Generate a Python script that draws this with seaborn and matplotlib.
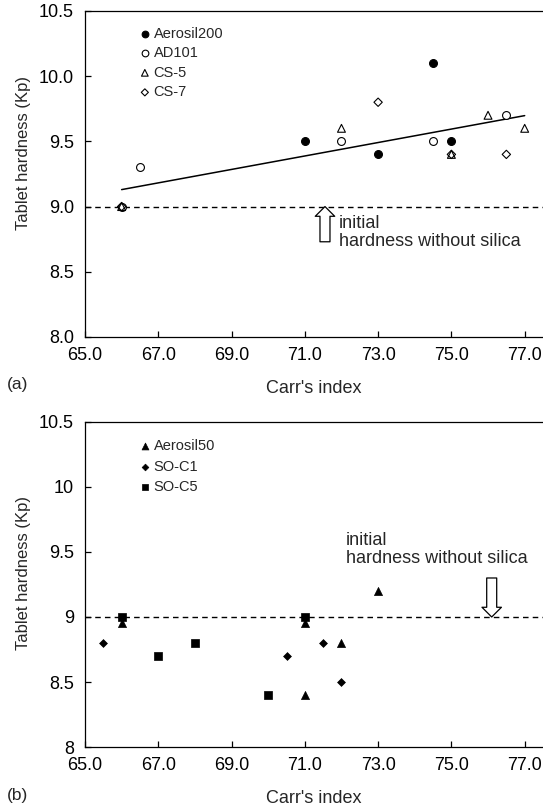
import matplotlib
matplotlib.use("Agg")
import matplotlib.pyplot as plt
import numpy as np
import pandas as pd
import seaborn as sns

sns.set_style("ticks")
plt.rcParams['font.family'] = ['Liberation Sans', 'DejaVu Sans']

# panel (a) data
aerosil200_x = [71.0, 73.0, 74.5, 75.0]
aerosil200_y = [9.5, 9.4, 10.1, 9.5]
ad101_x = [66.0, 66.5, 72.0, 74.5, 76.5]
ad101_y = [9.0, 9.3, 9.5, 9.5, 9.7]
cs5_x = [66.0, 72.0, 75.0, 76.0, 77.0]
cs5_y = [9.0, 9.6, 9.4, 9.7, 9.6]
cs7_x = [66.0, 73.0, 75.0, 76.5]
cs7_y = [9.0, 9.8, 9.4, 9.4]

# panel (b) data
aerosil50_x = [66.0, 71.0, 71.0, 72.0, 73.0]
aerosil50_y = [8.95, 8.95, 8.4, 8.8, 9.2]
soc1_x = [65.5, 70.5, 71.5, 72.0]
soc1_y = [8.8, 8.7, 8.8, 8.5]
soc5_x = [66.0, 67.0, 68.0, 70.0, 71.0]
soc5_y = [9.0, 8.7, 8.8, 8.4, 9.0]

initial_hardness = 9.0
x_ticks = [65, 67, 69, 71, 73, 75, 77]
y_ticks = [8.0, 8.5, 9.0, 9.5, 10.0, 10.5]

df_a = pd.DataFrame({
    'carr': aerosil200_x + ad101_x + cs5_x + cs7_x,
    'hardness': aerosil200_y + ad101_y + cs5_y + cs7_y,
})

fig = plt.figure(figsize=(5.43, 8.11), dpi=100)
ax1 = fig.add_axes([0.1565, 0.5845, 0.8435, 0.4020])
ax2 = fig.add_axes([0.1565, 0.0789, 0.8435, 0.4008])


def style_axis(ax, ylabel_y, yfmt):
    ax.set_xlim(65, 77.5)
    ax.set_ylim(8.0, 10.5)
    ax.set_xticks(x_ticks)
    ax.set_xticklabels([f'{t:.1f}' for t in x_ticks])
    ax.set_yticks(y_ticks)
    ax.set_yticklabels([yfmt(t) for t in y_ticks])
    ax.tick_params(direction='in', length=4, width=0.9, labelsize=13, colors='black')
    ax.tick_params(axis='y', pad=8)
    ax.tick_params(axis='x', pad=7)
    for side in ['left', 'bottom', 'top']:
        ax.spines[side].set_visible(True)
        ax.spines[side].set_linewidth(0.9)
        ax.spines[side].set_color('black')
    ax.spines['right'].set_visible(False)
    ax.set_xlabel("Carr's index", fontsize=13, labelpad=12)
    ax.set_ylabel('Tablet hardness (Kp)', fontsize=12)
    ax.yaxis.set_label_coords(-0.117, ylabel_y)
    ax.axhline(initial_hardness, color='black', lw=1.0, ls=(0, (4, 3)), zorder=1)


arrow = 'simple,head_width=0.7,head_length=0.35,tail_width=0.36'

# ---- panel (a)
sns.regplot(data=df_a, x='carr', y='hardness', ax=ax1, scatter=False, ci=None,
            line_kws=dict(color='black', lw=1.1))
sns.scatterplot(x=aerosil200_x, y=aerosil200_y, ax=ax1, marker='o', s=32,
                color='black', edgecolor='black', linewidth=0.8, label='Aerosil200', zorder=3)
sns.scatterplot(x=ad101_x, y=ad101_y, ax=ax1, marker='o', s=32, color='black',
                facecolor='white', edgecolor='black', linewidth=0.8, label='AD101', zorder=3)
sns.scatterplot(x=cs5_x, y=cs5_y, ax=ax1, marker='^', s=32, color='black',
                facecolor='none', edgecolor='black', linewidth=0.8, label='CS-5', zorder=3)
sns.scatterplot(x=cs7_x, y=cs7_y, ax=ax1, marker='D', s=18, color='black',
                facecolor='none', edgecolor='black', linewidth=0.8, label='CS-7', zorder=3)
style_axis(ax1, 0.565, lambda t: f'{t:.1f}')
ax1.legend(loc='upper left', bbox_to_anchor=(0.11, 0.97), frameon=False, fontsize=10.5,
           handlelength=0.5, handletextpad=0.35, labelspacing=0.38, markerscale=0.85,
           borderaxespad=0)
ax1.annotate('', xy=(71.55, initial_hardness), xytext=(71.55, 8.73),
             arrowprops=dict(arrowstyle=arrow, mutation_scale=20, fc='white', ec='black',
                             lw=0.9, shrinkA=0, shrinkB=0))
ax1.text(71.93, 8.935, 'initial\nhardness without silica', fontsize=13,
         va='top', ha='left', linespacing=1.05)

# ---- panel (b)
sns.scatterplot(x=aerosil50_x, y=aerosil50_y, ax=ax2, marker='^', s=34, color='black',
                edgecolor='black', linewidth=0.5, label='Aerosil50', zorder=3)
sns.scatterplot(x=soc1_x, y=soc1_y, ax=ax2, marker='D', s=16, color='black',
                edgecolor='black', linewidth=0.5, label='SO-C1', zorder=3)
sns.scatterplot(x=soc5_x, y=soc5_y, ax=ax2, marker='s', s=34, color='black',
                edgecolor='black', linewidth=0.5, label='SO-C5', zorder=3)
style_axis(ax2, 0.535, lambda t: f'{t:g}')
ax2.legend(loc='upper left', bbox_to_anchor=(0.11, 0.965), frameon=False, fontsize=10.5,
           handlelength=0.5, handletextpad=0.35, labelspacing=0.45, markerscale=0.85,
           borderaxespad=0)
ax2.annotate('', xy=(76.1, initial_hardness), xytext=(76.1, 9.3),
             arrowprops=dict(arrowstyle=arrow, mutation_scale=20, fc='white', ec='black',
                             lw=0.9, shrinkA=0, shrinkB=0))
ax2.text(72.12, 9.65, 'initial\nhardness without silica', fontsize=13,
         va='top', ha='left', linespacing=1.05)

fig.text(0.013, 0.520, '(a)', fontsize=12.5, va='baseline')
fig.text(0.013, 0.0136, '(b)', fontsize=12.5, va='baseline')

fig.savefig('out.png', dpi=100, facecolor='white')
